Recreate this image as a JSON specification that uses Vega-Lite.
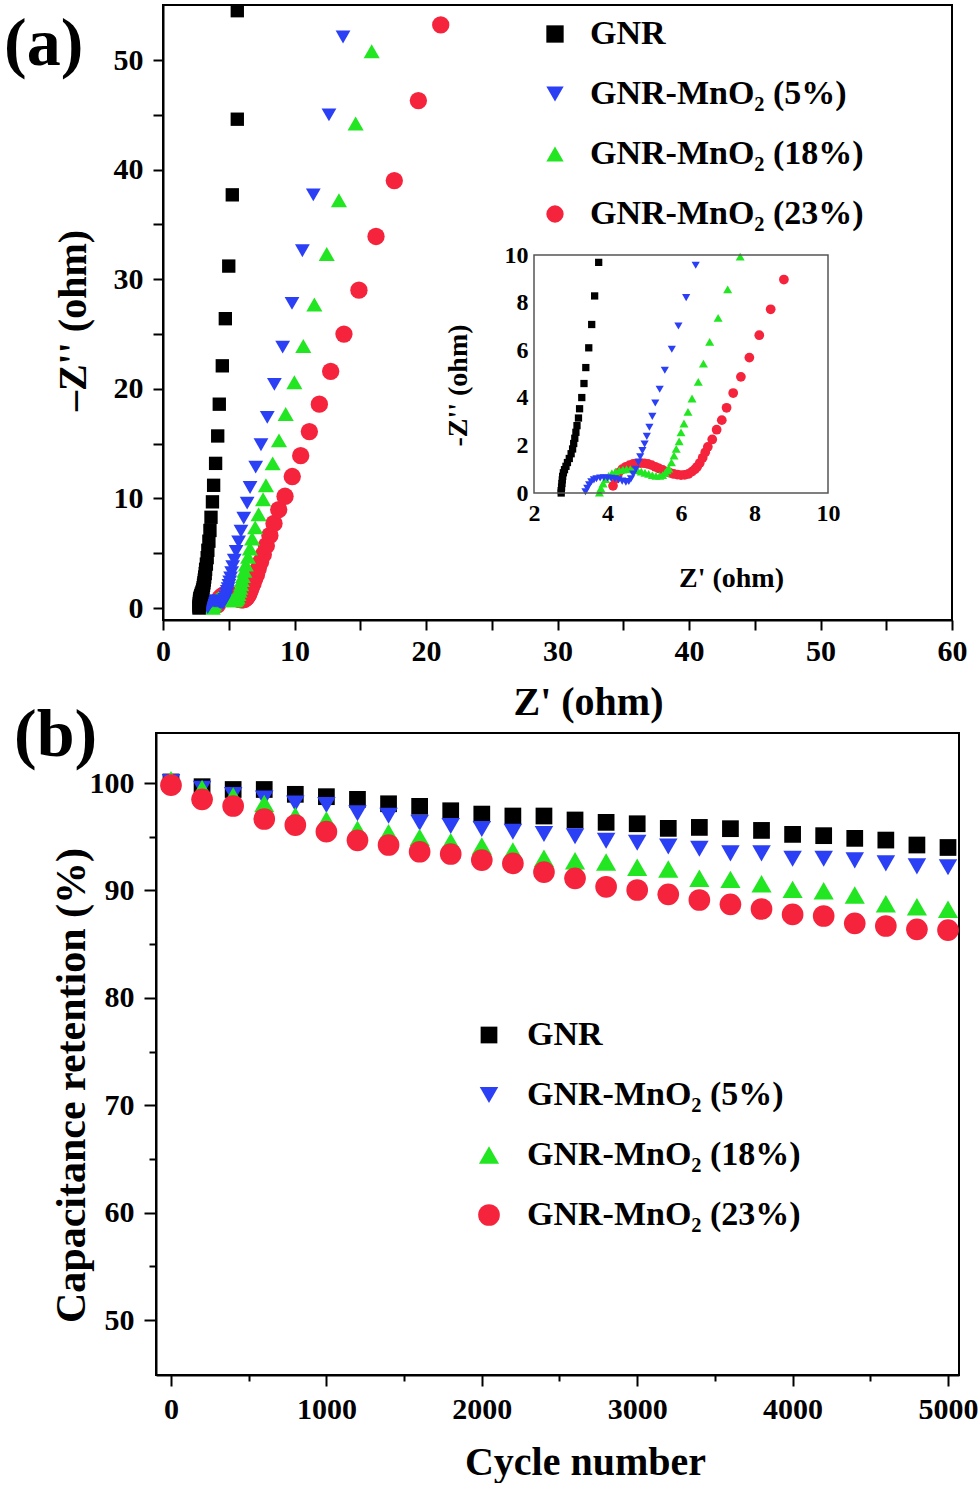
{
  "$schema": "https://vega.github.io/schema/vega-lite/v6.json",
  "padding": {"left": 3, "top": 4, "right": 0, "bottom": 0},
  "background": "white",
  "config": {
    "font": "Liberation Serif",
    "view": {"stroke": "#000000", "strokeWidth": 2},
    "axis": {
      "labelFont": "Liberation Serif", "labelFontWeight": "bold", "labelColor": "#000000",
      "titleFont": "Liberation Serif", "titleFontWeight": "bold", "titleColor": "#000000",
      "domainColor": "#000000", "domainWidth": 2, "tickColor": "#000000", "tickWidth": 2,
      "grid": false, "labelFlush": false, "labelOverlap": false, "labelBound": false
    },
    "legend": {"labelFont": "Liberation Serif", "labelFontWeight": "bold", "labelColor": "#000000"},
    "title": {"font": "Liberation Serif", "fontWeight": "bold", "color": "#000000"}
  },
  "datasets": {
    "eis": [
      {"sample": "GNR-MnO₂ (23%)", "zre": 4.15, "zim": 0.3},
      {"sample": "GNR-MnO₂ (23%)", "zre": 4.22, "zim": 0.6},
      {"sample": "GNR-MnO₂ (23%)", "zre": 4.3, "zim": 0.85},
      {"sample": "GNR-MnO₂ (23%)", "zre": 4.4, "zim": 1.0},
      {"sample": "GNR-MnO₂ (23%)", "zre": 4.5, "zim": 1.1},
      {"sample": "GNR-MnO₂ (23%)", "zre": 4.6, "zim": 1.17},
      {"sample": "GNR-MnO₂ (23%)", "zre": 4.7, "zim": 1.22},
      {"sample": "GNR-MnO₂ (23%)", "zre": 4.8, "zim": 1.25},
      {"sample": "GNR-MnO₂ (23%)", "zre": 4.9, "zim": 1.26},
      {"sample": "GNR-MnO₂ (23%)", "zre": 5.0, "zim": 1.25},
      {"sample": "GNR-MnO₂ (23%)", "zre": 5.1, "zim": 1.22},
      {"sample": "GNR-MnO₂ (23%)", "zre": 5.2, "zim": 1.17},
      {"sample": "GNR-MnO₂ (23%)", "zre": 5.3, "zim": 1.1},
      {"sample": "GNR-MnO₂ (23%)", "zre": 5.4, "zim": 1.03},
      {"sample": "GNR-MnO₂ (23%)", "zre": 5.5, "zim": 0.97},
      {"sample": "GNR-MnO₂ (23%)", "zre": 5.6, "zim": 0.9},
      {"sample": "GNR-MnO₂ (23%)", "zre": 5.7, "zim": 0.85},
      {"sample": "GNR-MnO₂ (23%)", "zre": 5.8, "zim": 0.8},
      {"sample": "GNR-MnO₂ (23%)", "zre": 5.9, "zim": 0.77},
      {"sample": "GNR-MnO₂ (23%)", "zre": 6.0, "zim": 0.75},
      {"sample": "GNR-MnO₂ (23%)", "zre": 6.1, "zim": 0.76},
      {"sample": "GNR-MnO₂ (23%)", "zre": 6.2, "zim": 0.8},
      {"sample": "GNR-MnO₂ (23%)", "zre": 6.3, "zim": 0.9},
      {"sample": "GNR-MnO₂ (23%)", "zre": 6.38, "zim": 1.0},
      {"sample": "GNR-MnO₂ (23%)", "zre": 6.44, "zim": 1.1},
      {"sample": "GNR-MnO₂ (23%)", "zre": 6.51, "zim": 1.26},
      {"sample": "GNR-MnO₂ (23%)", "zre": 6.59, "zim": 1.48},
      {"sample": "GNR-MnO₂ (23%)", "zre": 6.66, "zim": 1.71},
      {"sample": "GNR-MnO₂ (23%)", "zre": 6.73, "zim": 1.94},
      {"sample": "GNR-MnO₂ (23%)", "zre": 6.85, "zim": 2.25},
      {"sample": "GNR-MnO₂ (23%)", "zre": 6.97, "zim": 2.66},
      {"sample": "GNR-MnO₂ (23%)", "zre": 7.11, "zim": 3.06},
      {"sample": "GNR-MnO₂ (23%)", "zre": 7.24, "zim": 3.58},
      {"sample": "GNR-MnO₂ (23%)", "zre": 7.42, "zim": 4.2},
      {"sample": "GNR-MnO₂ (23%)", "zre": 7.63, "zim": 4.88},
      {"sample": "GNR-MnO₂ (23%)", "zre": 7.86, "zim": 5.69},
      {"sample": "GNR-MnO₂ (23%)", "zre": 8.13, "zim": 6.63},
      {"sample": "GNR-MnO₂ (23%)", "zre": 8.44, "zim": 7.72},
      {"sample": "GNR-MnO₂ (23%)", "zre": 8.8, "zim": 8.97},
      {"sample": "GNR-MnO₂ (23%)", "zre": 9.28, "zim": 10.2},
      {"sample": "GNR-MnO₂ (23%)", "zre": 9.83, "zim": 12.0},
      {"sample": "GNR-MnO₂ (23%)", "zre": 10.47, "zim": 13.9},
      {"sample": "GNR-MnO₂ (23%)", "zre": 11.13, "zim": 16.1},
      {"sample": "GNR-MnO₂ (23%)", "zre": 11.89, "zim": 18.6},
      {"sample": "GNR-MnO₂ (23%)", "zre": 12.75, "zim": 21.6},
      {"sample": "GNR-MnO₂ (23%)", "zre": 13.76, "zim": 25.0},
      {"sample": "GNR-MnO₂ (23%)", "zre": 14.9, "zim": 29.0},
      {"sample": "GNR-MnO₂ (23%)", "zre": 16.2, "zim": 33.9},
      {"sample": "GNR-MnO₂ (23%)", "zre": 17.59, "zim": 39.0},
      {"sample": "GNR-MnO₂ (23%)", "zre": 19.42, "zim": 46.3},
      {"sample": "GNR-MnO₂ (23%)", "zre": 21.12, "zim": 53.2},
      {"sample": "GNR-MnO₂ (18%)", "zre": 3.78, "zim": 0.02},
      {"sample": "GNR-MnO₂ (18%)", "zre": 3.82, "zim": 0.2},
      {"sample": "GNR-MnO₂ (18%)", "zre": 3.88, "zim": 0.4},
      {"sample": "GNR-MnO₂ (18%)", "zre": 3.95, "zim": 0.58},
      {"sample": "GNR-MnO₂ (18%)", "zre": 4.03, "zim": 0.72},
      {"sample": "GNR-MnO₂ (18%)", "zre": 4.12, "zim": 0.83},
      {"sample": "GNR-MnO₂ (18%)", "zre": 4.22, "zim": 0.9},
      {"sample": "GNR-MnO₂ (18%)", "zre": 4.32, "zim": 0.95},
      {"sample": "GNR-MnO₂ (18%)", "zre": 4.42, "zim": 0.98},
      {"sample": "GNR-MnO₂ (18%)", "zre": 4.52, "zim": 1.0},
      {"sample": "GNR-MnO₂ (18%)", "zre": 4.62, "zim": 1.0},
      {"sample": "GNR-MnO₂ (18%)", "zre": 4.72, "zim": 0.98},
      {"sample": "GNR-MnO₂ (18%)", "zre": 4.82, "zim": 0.95},
      {"sample": "GNR-MnO₂ (18%)", "zre": 4.92, "zim": 0.9},
      {"sample": "GNR-MnO₂ (18%)", "zre": 5.02, "zim": 0.85},
      {"sample": "GNR-MnO₂ (18%)", "zre": 5.12, "zim": 0.8},
      {"sample": "GNR-MnO₂ (18%)", "zre": 5.22, "zim": 0.75},
      {"sample": "GNR-MnO₂ (18%)", "zre": 5.32, "zim": 0.72},
      {"sample": "GNR-MnO₂ (18%)", "zre": 5.42, "zim": 0.72},
      {"sample": "GNR-MnO₂ (18%)", "zre": 5.5, "zim": 0.75},
      {"sample": "GNR-MnO₂ (18%)", "zre": 5.57, "zim": 0.85},
      {"sample": "GNR-MnO₂ (18%)", "zre": 5.62, "zim": 0.95},
      {"sample": "GNR-MnO₂ (18%)", "zre": 5.67, "zim": 1.03},
      {"sample": "GNR-MnO₂ (18%)", "zre": 5.74, "zim": 1.29},
      {"sample": "GNR-MnO₂ (18%)", "zre": 5.81, "zim": 1.57},
      {"sample": "GNR-MnO₂ (18%)", "zre": 5.87, "zim": 1.85},
      {"sample": "GNR-MnO₂ (18%)", "zre": 5.95, "zim": 2.17},
      {"sample": "GNR-MnO₂ (18%)", "zre": 6.0, "zim": 2.55},
      {"sample": "GNR-MnO₂ (18%)", "zre": 6.08, "zim": 2.92},
      {"sample": "GNR-MnO₂ (18%)", "zre": 6.19, "zim": 3.41},
      {"sample": "GNR-MnO₂ (18%)", "zre": 6.3, "zim": 3.97},
      {"sample": "GNR-MnO₂ (18%)", "zre": 6.47, "zim": 4.67},
      {"sample": "GNR-MnO₂ (18%)", "zre": 6.61, "zim": 5.44},
      {"sample": "GNR-MnO₂ (18%)", "zre": 6.78, "zim": 6.35},
      {"sample": "GNR-MnO₂ (18%)", "zre": 7.01, "zim": 7.36},
      {"sample": "GNR-MnO₂ (18%)", "zre": 7.27, "zim": 8.56},
      {"sample": "GNR-MnO₂ (18%)", "zre": 7.61, "zim": 9.93},
      {"sample": "GNR-MnO₂ (18%)", "zre": 7.83, "zim": 11.2},
      {"sample": "GNR-MnO₂ (18%)", "zre": 8.34, "zim": 13.2},
      {"sample": "GNR-MnO₂ (18%)", "zre": 8.82, "zim": 15.3},
      {"sample": "GNR-MnO₂ (18%)", "zre": 9.33, "zim": 17.7},
      {"sample": "GNR-MnO₂ (18%)", "zre": 9.99, "zim": 20.6},
      {"sample": "GNR-MnO₂ (18%)", "zre": 10.67, "zim": 23.9},
      {"sample": "GNR-MnO₂ (18%)", "zre": 11.51, "zim": 27.7},
      {"sample": "GNR-MnO₂ (18%)", "zre": 12.45, "zim": 32.3},
      {"sample": "GNR-MnO₂ (18%)", "zre": 13.38, "zim": 37.2},
      {"sample": "GNR-MnO₂ (18%)", "zre": 14.65, "zim": 44.2},
      {"sample": "GNR-MnO₂ (18%)", "zre": 15.87, "zim": 50.8},
      {"sample": "GNR-MnO₂ (5%)", "zre": 3.4, "zim": 0.05},
      {"sample": "GNR-MnO₂ (5%)", "zre": 3.45, "zim": 0.2},
      {"sample": "GNR-MnO₂ (5%)", "zre": 3.5, "zim": 0.35},
      {"sample": "GNR-MnO₂ (5%)", "zre": 3.56, "zim": 0.47},
      {"sample": "GNR-MnO₂ (5%)", "zre": 3.63, "zim": 0.55},
      {"sample": "GNR-MnO₂ (5%)", "zre": 3.7, "zim": 0.6},
      {"sample": "GNR-MnO₂ (5%)", "zre": 3.8, "zim": 0.63},
      {"sample": "GNR-MnO₂ (5%)", "zre": 3.9, "zim": 0.64},
      {"sample": "GNR-MnO₂ (5%)", "zre": 4.0, "zim": 0.63},
      {"sample": "GNR-MnO₂ (5%)", "zre": 4.1, "zim": 0.62},
      {"sample": "GNR-MnO₂ (5%)", "zre": 4.2, "zim": 0.6},
      {"sample": "GNR-MnO₂ (5%)", "zre": 4.3, "zim": 0.55},
      {"sample": "GNR-MnO₂ (5%)", "zre": 4.4, "zim": 0.5},
      {"sample": "GNR-MnO₂ (5%)", "zre": 4.5, "zim": 0.45},
      {"sample": "GNR-MnO₂ (5%)", "zre": 4.58, "zim": 0.48},
      {"sample": "GNR-MnO₂ (5%)", "zre": 4.64, "zim": 0.6},
      {"sample": "GNR-MnO₂ (5%)", "zre": 4.7, "zim": 0.8},
      {"sample": "GNR-MnO₂ (5%)", "zre": 4.77, "zim": 1.0},
      {"sample": "GNR-MnO₂ (5%)", "zre": 4.84, "zim": 1.29},
      {"sample": "GNR-MnO₂ (5%)", "zre": 4.89, "zim": 1.52},
      {"sample": "GNR-MnO₂ (5%)", "zre": 4.95, "zim": 1.78},
      {"sample": "GNR-MnO₂ (5%)", "zre": 5.01, "zim": 2.06},
      {"sample": "GNR-MnO₂ (5%)", "zre": 5.07, "zim": 2.38},
      {"sample": "GNR-MnO₂ (5%)", "zre": 5.14, "zim": 2.76},
      {"sample": "GNR-MnO₂ (5%)", "zre": 5.22, "zim": 3.22},
      {"sample": "GNR-MnO₂ (5%)", "zre": 5.3, "zim": 3.78},
      {"sample": "GNR-MnO₂ (5%)", "zre": 5.42, "zim": 4.36},
      {"sample": "GNR-MnO₂ (5%)", "zre": 5.56, "zim": 5.16},
      {"sample": "GNR-MnO₂ (5%)", "zre": 5.75, "zim": 6.04},
      {"sample": "GNR-MnO₂ (5%)", "zre": 5.93, "zim": 7.02},
      {"sample": "GNR-MnO₂ (5%)", "zre": 6.14, "zim": 8.21},
      {"sample": "GNR-MnO₂ (5%)", "zre": 6.4, "zim": 9.57},
      {"sample": "GNR-MnO₂ (5%)", "zre": 6.62, "zim": 11.0},
      {"sample": "GNR-MnO₂ (5%)", "zre": 7.05, "zim": 12.85},
      {"sample": "GNR-MnO₂ (5%)", "zre": 7.45, "zim": 14.9},
      {"sample": "GNR-MnO₂ (5%)", "zre": 7.93, "zim": 17.4},
      {"sample": "GNR-MnO₂ (5%)", "zre": 8.47, "zim": 20.4},
      {"sample": "GNR-MnO₂ (5%)", "zre": 9.1, "zim": 23.8},
      {"sample": "GNR-MnO₂ (5%)", "zre": 9.81, "zim": 27.8},
      {"sample": "GNR-MnO₂ (5%)", "zre": 10.6, "zim": 32.6},
      {"sample": "GNR-MnO₂ (5%)", "zre": 11.43, "zim": 37.7},
      {"sample": "GNR-MnO₂ (5%)", "zre": 12.62, "zim": 45.0},
      {"sample": "GNR-MnO₂ (5%)", "zre": 13.69, "zim": 52.1},
      {"sample": "GNR", "zre": 2.74, "zim": 0.0},
      {"sample": "GNR", "zre": 2.74, "zim": 0.1},
      {"sample": "GNR", "zre": 2.75, "zim": 0.25},
      {"sample": "GNR", "zre": 2.76, "zim": 0.4},
      {"sample": "GNR", "zre": 2.77, "zim": 0.55},
      {"sample": "GNR", "zre": 2.78, "zim": 0.7},
      {"sample": "GNR", "zre": 2.8, "zim": 0.85},
      {"sample": "GNR", "zre": 2.83, "zim": 0.98},
      {"sample": "GNR", "zre": 2.87, "zim": 1.12},
      {"sample": "GNR", "zre": 2.91, "zim": 1.28},
      {"sample": "GNR", "zre": 2.96, "zim": 1.45},
      {"sample": "GNR", "zre": 3.01, "zim": 1.65},
      {"sample": "GNR", "zre": 3.05, "zim": 1.85},
      {"sample": "GNR", "zre": 3.08, "zim": 2.08},
      {"sample": "GNR", "zre": 3.11, "zim": 2.3},
      {"sample": "GNR", "zre": 3.14, "zim": 2.55},
      {"sample": "GNR", "zre": 3.17, "zim": 2.83},
      {"sample": "GNR", "zre": 3.21, "zim": 3.15},
      {"sample": "GNR", "zre": 3.24, "zim": 3.54},
      {"sample": "GNR", "zre": 3.3, "zim": 4.01},
      {"sample": "GNR", "zre": 3.36, "zim": 4.6},
      {"sample": "GNR", "zre": 3.41, "zim": 5.27},
      {"sample": "GNR", "zre": 3.49, "zim": 6.1},
      {"sample": "GNR", "zre": 3.57, "zim": 7.08},
      {"sample": "GNR", "zre": 3.65, "zim": 8.28},
      {"sample": "GNR", "zre": 3.76, "zim": 9.69},
      {"sample": "GNR", "zre": 3.85, "zim": 11.2},
      {"sample": "GNR", "zre": 4.0, "zim": 13.2},
      {"sample": "GNR", "zre": 4.16, "zim": 15.7},
      {"sample": "GNR", "zre": 4.28, "zim": 18.6},
      {"sample": "GNR", "zre": 4.51, "zim": 22.1},
      {"sample": "GNR", "zre": 4.74, "zim": 26.4},
      {"sample": "GNR", "zre": 5.0, "zim": 31.2},
      {"sample": "GNR", "zre": 5.27, "zim": 37.7},
      {"sample": "GNR", "zre": 5.65, "zim": 44.6},
      {"sample": "GNR", "zre": 5.65, "zim": 54.5}
    ],
    "cyc": [
      {"sample": "GNR", "cycle": 0, "ret": 100.1},
      {"sample": "GNR", "cycle": 200, "ret": 99.66},
      {"sample": "GNR", "cycle": 400, "ret": 99.4},
      {"sample": "GNR", "cycle": 600, "ret": 99.4},
      {"sample": "GNR", "cycle": 800, "ret": 98.95},
      {"sample": "GNR", "cycle": 1000, "ret": 98.73},
      {"sample": "GNR", "cycle": 1200, "ret": 98.48},
      {"sample": "GNR", "cycle": 1400, "ret": 98.07},
      {"sample": "GNR", "cycle": 1600, "ret": 97.83},
      {"sample": "GNR", "cycle": 1800, "ret": 97.42},
      {"sample": "GNR", "cycle": 2000, "ret": 97.11},
      {"sample": "GNR", "cycle": 2200, "ret": 96.93},
      {"sample": "GNR", "cycle": 2400, "ret": 96.93},
      {"sample": "GNR", "cycle": 2600, "ret": 96.56},
      {"sample": "GNR", "cycle": 2800, "ret": 96.34},
      {"sample": "GNR", "cycle": 3000, "ret": 96.21},
      {"sample": "GNR", "cycle": 3200, "ret": 95.78},
      {"sample": "GNR", "cycle": 3400, "ret": 95.87},
      {"sample": "GNR", "cycle": 3600, "ret": 95.75},
      {"sample": "GNR", "cycle": 3800, "ret": 95.59},
      {"sample": "GNR", "cycle": 4000, "ret": 95.22},
      {"sample": "GNR", "cycle": 4200, "ret": 95.1},
      {"sample": "GNR", "cycle": 4400, "ret": 94.85},
      {"sample": "GNR", "cycle": 4600, "ret": 94.69},
      {"sample": "GNR", "cycle": 4800, "ret": 94.23},
      {"sample": "GNR", "cycle": 5000, "ret": 94.0},
      {"sample": "GNR-MnO₂ (5%)", "cycle": 0, "ret": 100.1},
      {"sample": "GNR-MnO₂ (5%)", "cycle": 200, "ret": 99.47},
      {"sample": "GNR-MnO₂ (5%)", "cycle": 400, "ret": 98.88},
      {"sample": "GNR-MnO₂ (5%)", "cycle": 600, "ret": 98.57},
      {"sample": "GNR-MnO₂ (5%)", "cycle": 800, "ret": 98.1},
      {"sample": "GNR-MnO₂ (5%)", "cycle": 1000, "ret": 97.95},
      {"sample": "GNR-MnO₂ (5%)", "cycle": 1200, "ret": 97.18},
      {"sample": "GNR-MnO₂ (5%)", "cycle": 1400, "ret": 96.96},
      {"sample": "GNR-MnO₂ (5%)", "cycle": 1600, "ret": 96.3},
      {"sample": "GNR-MnO₂ (5%)", "cycle": 1800, "ret": 96.0},
      {"sample": "GNR-MnO₂ (5%)", "cycle": 2000, "ret": 95.72},
      {"sample": "GNR-MnO₂ (5%)", "cycle": 2200, "ret": 95.47},
      {"sample": "GNR-MnO₂ (5%)", "cycle": 2400, "ret": 95.25},
      {"sample": "GNR-MnO₂ (5%)", "cycle": 2600, "ret": 95.04},
      {"sample": "GNR-MnO₂ (5%)", "cycle": 2800, "ret": 94.63},
      {"sample": "GNR-MnO₂ (5%)", "cycle": 3000, "ret": 94.44},
      {"sample": "GNR-MnO₂ (5%)", "cycle": 3200, "ret": 94.1},
      {"sample": "GNR-MnO₂ (5%)", "cycle": 3400, "ret": 93.88},
      {"sample": "GNR-MnO₂ (5%)", "cycle": 3600, "ret": 93.45},
      {"sample": "GNR-MnO₂ (5%)", "cycle": 3800, "ret": 93.45},
      {"sample": "GNR-MnO₂ (5%)", "cycle": 4000, "ret": 92.95},
      {"sample": "GNR-MnO₂ (5%)", "cycle": 4200, "ret": 92.95},
      {"sample": "GNR-MnO₂ (5%)", "cycle": 4400, "ret": 92.8},
      {"sample": "GNR-MnO₂ (5%)", "cycle": 4600, "ret": 92.52},
      {"sample": "GNR-MnO₂ (5%)", "cycle": 4800, "ret": 92.24},
      {"sample": "GNR-MnO₂ (5%)", "cycle": 5000, "ret": 92.15},
      {"sample": "GNR-MnO₂ (18%)", "cycle": 0, "ret": 100.3},
      {"sample": "GNR-MnO₂ (18%)", "cycle": 200, "ret": 99.5},
      {"sample": "GNR-MnO₂ (18%)", "cycle": 400, "ret": 98.79},
      {"sample": "GNR-MnO₂ (18%)", "cycle": 600, "ret": 98.1},
      {"sample": "GNR-MnO₂ (18%)", "cycle": 800, "ret": 96.96},
      {"sample": "GNR-MnO₂ (18%)", "cycle": 1000, "ret": 96.55},
      {"sample": "GNR-MnO₂ (18%)", "cycle": 1200, "ret": 95.69},
      {"sample": "GNR-MnO₂ (18%)", "cycle": 1400, "ret": 95.38},
      {"sample": "GNR-MnO₂ (18%)", "cycle": 1600, "ret": 94.94},
      {"sample": "GNR-MnO₂ (18%)", "cycle": 1800, "ret": 94.54},
      {"sample": "GNR-MnO₂ (18%)", "cycle": 2000, "ret": 94.13},
      {"sample": "GNR-MnO₂ (18%)", "cycle": 2200, "ret": 93.67},
      {"sample": "GNR-MnO₂ (18%)", "cycle": 2400, "ret": 93.0},
      {"sample": "GNR-MnO₂ (18%)", "cycle": 2600, "ret": 92.77},
      {"sample": "GNR-MnO₂ (18%)", "cycle": 2800, "ret": 92.64},
      {"sample": "GNR-MnO₂ (18%)", "cycle": 3000, "ret": 92.15},
      {"sample": "GNR-MnO₂ (18%)", "cycle": 3200, "ret": 91.99},
      {"sample": "GNR-MnO₂ (18%)", "cycle": 3400, "ret": 91.13},
      {"sample": "GNR-MnO₂ (18%)", "cycle": 3600, "ret": 91.03},
      {"sample": "GNR-MnO₂ (18%)", "cycle": 3800, "ret": 90.62},
      {"sample": "GNR-MnO₂ (18%)", "cycle": 4000, "ret": 90.1},
      {"sample": "GNR-MnO₂ (18%)", "cycle": 4200, "ret": 89.97},
      {"sample": "GNR-MnO₂ (18%)", "cycle": 4400, "ret": 89.57},
      {"sample": "GNR-MnO₂ (18%)", "cycle": 4600, "ret": 88.76},
      {"sample": "GNR-MnO₂ (18%)", "cycle": 4800, "ret": 88.48},
      {"sample": "GNR-MnO₂ (18%)", "cycle": 5000, "ret": 88.24},
      {"sample": "GNR-MnO₂ (23%)", "cycle": 0, "ret": 99.8},
      {"sample": "GNR-MnO₂ (23%)", "cycle": 200, "ret": 98.48},
      {"sample": "GNR-MnO₂ (23%)", "cycle": 400, "ret": 97.86},
      {"sample": "GNR-MnO₂ (23%)", "cycle": 600, "ret": 96.65},
      {"sample": "GNR-MnO₂ (23%)", "cycle": 800, "ret": 96.09},
      {"sample": "GNR-MnO₂ (23%)", "cycle": 1000, "ret": 95.47},
      {"sample": "GNR-MnO₂ (23%)", "cycle": 1200, "ret": 94.67},
      {"sample": "GNR-MnO₂ (23%)", "cycle": 1400, "ret": 94.23},
      {"sample": "GNR-MnO₂ (23%)", "cycle": 1600, "ret": 93.6},
      {"sample": "GNR-MnO₂ (23%)", "cycle": 1800, "ret": 93.39},
      {"sample": "GNR-MnO₂ (23%)", "cycle": 2000, "ret": 92.83},
      {"sample": "GNR-MnO₂ (23%)", "cycle": 2200, "ret": 92.52},
      {"sample": "GNR-MnO₂ (23%)", "cycle": 2400, "ret": 91.71},
      {"sample": "GNR-MnO₂ (23%)", "cycle": 2600, "ret": 91.13},
      {"sample": "GNR-MnO₂ (23%)", "cycle": 2800, "ret": 90.34},
      {"sample": "GNR-MnO₂ (23%)", "cycle": 3000, "ret": 90.04},
      {"sample": "GNR-MnO₂ (23%)", "cycle": 3200, "ret": 89.64},
      {"sample": "GNR-MnO₂ (23%)", "cycle": 3400, "ret": 89.11},
      {"sample": "GNR-MnO₂ (23%)", "cycle": 3600, "ret": 88.71},
      {"sample": "GNR-MnO₂ (23%)", "cycle": 3800, "ret": 88.27},
      {"sample": "GNR-MnO₂ (23%)", "cycle": 4000, "ret": 87.77},
      {"sample": "GNR-MnO₂ (23%)", "cycle": 4200, "ret": 87.62},
      {"sample": "GNR-MnO₂ (23%)", "cycle": 4400, "ret": 86.94},
      {"sample": "GNR-MnO₂ (23%)", "cycle": 4600, "ret": 86.69},
      {"sample": "GNR-MnO₂ (23%)", "cycle": 4800, "ret": 86.38},
      {"sample": "GNR-MnO₂ (23%)", "cycle": 5000, "ret": 86.31}
    ]
  },
  "vconcat": [
    {
      "width": 789,
      "height": 615,
      "title": {"text": "(a)", "anchor": "start", "frame": "group", "orient": "top", "offset": -128, "dx": -159, "baseline": "alphabetic", "fontSize": 68},
      "data": {"name": "eis"},
      "layer": [
        {
          "mark": {"type": "point", "filled": true, "opacity": 1, "clip": true},
          "encoding": {
            "x": {
              "field": "zre", "type": "quantitative",
              "scale": {"domain": [0, 60], "nice": false, "zero": false},
              "axis": {
                "orient": "bottom",
                "values": [0, 5, 10, 15, 20, 25, 30, 35, 40, 45, 50, 55, 60],
                "labelExpr": "datum.value % 10 === 0 ? datum.label : ''",
                "labelFontSize": 30, "labelPadding": 6, "tickSize": 10,
                "title": "Z' (ohm)", "titleFontSize": 40,
                "titleX": 425, "titleY": 82, "titleBaseline": "middle", "titleAlign": "center"
              }
            },
            "y": {
              "field": "zim", "type": "quantitative",
              "scale": {"domain": [-1.09, 55.02], "nice": false, "zero": false},
              "axis": {
                "orient": "left",
                "values": [0, 5, 10, 15, 20, 25, 30, 35, 40, 45, 50],
                "labelExpr": "datum.value % 10 === 0 ? datum.label : ''",
                "labelFontSize": 30, "labelPadding": 10, "tickSize": 10,
                "title": "–Z'' (ohm)", "titleFontSize": 40,
                "titleX": -90, "titleY": 315, "titleAngle": -90, "titleBaseline": "middle", "titleAlign": "center"
              }
            },
            "color": {
              "field": "sample", "type": "nominal",
              "scale": {"domain": ["GNR", "GNR-MnO₂ (5%)", "GNR-MnO₂ (18%)", "GNR-MnO₂ (23%)"], "range": ["#000000", "#2b3ff5", "#22e622", "#f5233c"]},
              "legend": {"title": null, "orient": "none", "legendX": 375, "legendY": 12, "symbolSize": 300, "labelFontSize": 34, "rowPadding": 26, "labelOffset": 18, "padding": 0, "labelLimit": 0}
            },
            "shape": {
              "field": "sample", "type": "nominal",
              "scale": {"domain": ["GNR", "GNR-MnO₂ (5%)", "GNR-MnO₂ (18%)", "GNR-MnO₂ (23%)"], "range": ["square", "triangle-down", "triangle-up", "circle"]},
              "legend": {"title": null, "orient": "none", "legendX": 375, "legendY": 12, "symbolSize": 300, "labelFontSize": 34, "rowPadding": 26, "labelOffset": 18, "padding": 0, "labelLimit": 0}
            },
            "size": {
              "field": "sample", "type": "ordinal",
              "scale": {"domain": ["GNR", "GNR-MnO₂ (5%)", "GNR-MnO₂ (18%)", "GNR-MnO₂ (23%)"], "range": [178, 300, 300, 178]},
              "legend": null
            }
          }
        },
        {
          "layer": [
            {
              "transform": [{"filter": "datum.zim <= 10.1 && datum.zre <= 10.1"}],
              "mark": {"type": "point", "filled": true, "opacity": 1},
              "encoding": {
                "x": {
                  "field": "zre", "type": "quantitative",
                  "scale": {"domain": [2, 10], "range": [371, 665], "nice": false, "zero": false},
                  "axis": {
                    "orient": "bottom", "offset": -127,
                    "values": [2, 4, 6, 8, 10], "format": "d",
                    "ticks": false, "domain": false,
                    "labelFontSize": 24, "labelPadding": 8,
                    "title": "Z' (ohm)", "titleFontSize": 28,
                    "titleX": 568, "titleY": 85, "titleBaseline": "middle", "titleAlign": "center"
                  }
                },
                "y": {
                  "field": "zim", "type": "quantitative",
                  "scale": {"domain": [0, 10], "range": [488, 250], "nice": false, "zero": false},
                  "axis": {
                    "orient": "left", "offset": -371,
                    "values": [0, 2, 4, 6, 8, 10], "format": "d",
                    "ticks": false, "domain": false,
                    "labelFontSize": 24, "labelPadding": 6,
                    "title": "-Z'' (ohm)", "titleFontSize": 28,
                    "titleX": -76, "titleY": 380, "titleAngle": -90, "titleBaseline": "middle", "titleAlign": "center"
                  }
                },
                "color": {
                  "field": "sample", "type": "nominal",
                  "scale": {"domain": ["GNR", "GNR-MnO₂ (5%)", "GNR-MnO₂ (18%)", "GNR-MnO₂ (23%)"], "range": ["#000000", "#2b3ff5", "#22e622", "#f5233c"]},
                  "legend": {"title": null, "orient": "none", "legendX": 375, "legendY": 12, "symbolSize": 300, "labelFontSize": 34, "rowPadding": 26, "labelOffset": 18, "padding": 0, "labelLimit": 0}
                },
                "shape": {
                  "field": "sample", "type": "nominal",
                  "scale": {"domain": ["GNR", "GNR-MnO₂ (5%)", "GNR-MnO₂ (18%)", "GNR-MnO₂ (23%)"], "range": ["square", "triangle-down", "triangle-up", "circle"]},
                  "legend": {"title": null, "orient": "none", "legendX": 375, "legendY": 12, "symbolSize": 300, "labelFontSize": 34, "rowPadding": 26, "labelOffset": 18, "padding": 0, "labelLimit": 0}
                },
                "size": {
                  "field": "sample", "type": "ordinal",
                  "scale": {"domain": ["GNR", "GNR-MnO₂ (5%)", "GNR-MnO₂ (18%)", "GNR-MnO₂ (23%)"], "range": [53, 95, 95, 75]},
                  "legend": null
                }
              }
            },
            {
              "data": {"values": [{}]},
              "mark": {"type": "rect", "filled": false, "stroke": "#555555", "strokeWidth": 1.5},
              "encoding": {
                "x": {"datum": 2, "type": "quantitative"},
                "x2": {"datum": 10},
                "y": {"datum": 0, "type": "quantitative"},
                "y2": {"datum": 10}
              }
            }
          ]
        }
      ],
      "resolve": {"scale": {"x": "independent", "y": "independent", "size": "independent"}}
    },
    {
      "width": 803,
      "height": 642,
      "title": {"text": "(b)", "anchor": "start", "frame": "group", "orient": "top", "offset": -91, "dx": -142, "baseline": "alphabetic", "fontSize": 68},
      "data": {"name": "cyc"},
      "mark": {"type": "point", "filled": true, "opacity": 1},
      "encoding": {
        "x": {
          "field": "cycle", "type": "quantitative",
          "scale": {"domain": [-96.5, 5070.8], "nice": false, "zero": false},
          "axis": {
            "values": [0, 500, 1000, 1500, 2000, 2500, 3000, 3500, 4000, 4500, 5000],
            "format": "d",
            "labelExpr": "datum.value % 1000 === 0 ? datum.label : ''",
            "tickSize": {"condition": {"test": "datum.value % 1000 !== 0", "value": 6}, "value": 11},
            "labelFontSize": 30, "labelPadding": 8,
            "title": "Cycle number", "titleFontSize": 40,
            "titleX": 429, "titleY": 87, "titleBaseline": "middle", "titleAlign": "center"
          }
        },
        "y": {
          "field": "ret", "type": "quantitative",
          "scale": {"domain": [44.88, 104.66], "nice": false, "zero": false},
          "axis": {
            "values": [50, 55, 60, 65, 70, 75, 80, 85, 90, 95, 100],
            "labelExpr": "datum.value % 10 === 0 ? datum.label : ''",
            "tickSize": {"condition": {"test": "datum.value % 10 !== 0", "value": 7}, "value": 12},
            "labelFontSize": 30, "labelPadding": 10,
            "title": "Capacitance retention (%)", "titleFontSize": 42,
            "titleX": -85, "titleY": 352, "titleAngle": -90, "titleBaseline": "middle", "titleAlign": "center"
          }
        },
        "color": {
          "field": "sample", "type": "nominal",
          "scale": {"domain": ["GNR", "GNR-MnO₂ (5%)", "GNR-MnO₂ (18%)", "GNR-MnO₂ (23%)"], "range": ["#000000", "#2b3ff5", "#22e622", "#f5233c"]},
          "legend": {"title": null, "orient": "none", "legendX": 316, "legendY": 285, "symbolSize": 300, "labelFontSize": 34, "rowPadding": 26, "labelOffset": 21, "padding": 0, "labelLimit": 0}
        },
        "shape": {
          "field": "sample", "type": "nominal",
          "scale": {"domain": ["GNR", "GNR-MnO₂ (5%)", "GNR-MnO₂ (18%)", "GNR-MnO₂ (23%)"], "range": ["square", "triangle-down", "triangle-up", "circle"]},
          "legend": {"title": null, "orient": "none", "legendX": 316, "legendY": 285, "symbolSize": 300, "labelFontSize": 34, "rowPadding": 26, "labelOffset": 21, "padding": 0, "labelLimit": 0}
        },
        "size": {
          "field": "sample", "type": "ordinal",
          "scale": {"domain": ["GNR", "GNR-MnO₂ (5%)", "GNR-MnO₂ (18%)", "GNR-MnO₂ (23%)"], "range": [280, 470, 470, 370]},
          "legend": null
        }
      }
    }
  ],
  "resolve": {"scale": {"color": "independent", "shape": "independent", "size": "independent"}, "legend": {"color": "independent", "shape": "independent"}},
  "spacing": 113,
  "bounds": "flush",
  "center": true
}
